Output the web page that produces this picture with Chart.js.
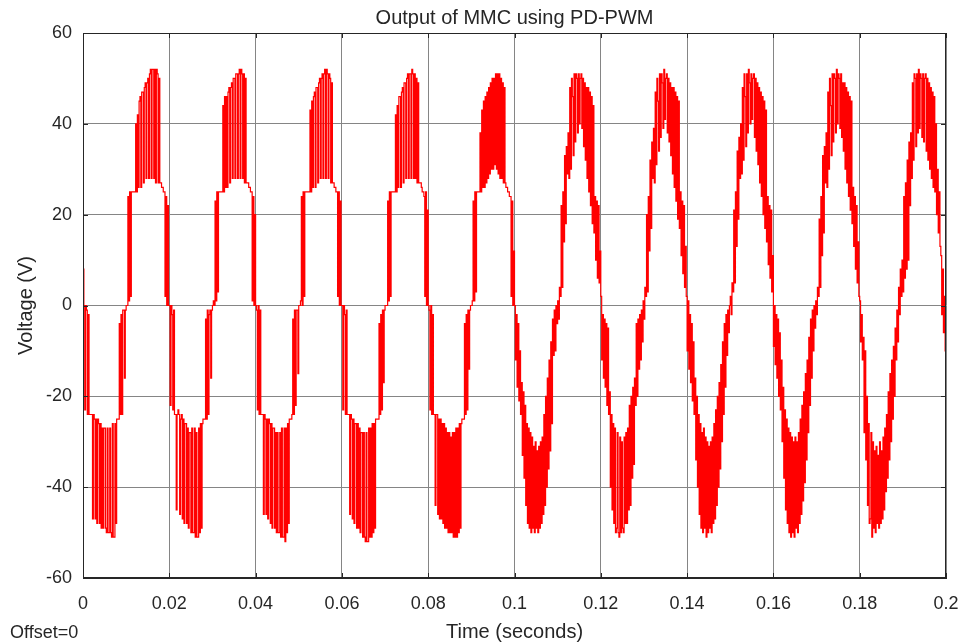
<!DOCTYPE html>
<html>
<head>
<meta charset="utf-8">
<title>Output of MMC using PD-PWM</title>
<script src="https://cdn.jsdelivr.net/npm/chart.js@4.4.1/dist/chart.umd.min.js"></script>
<style>
    html, body { margin: 0; padding: 0; background: #ffffff; }
    #wrap { width: 963px; height: 644px; }
</style>
</head>
<body>
<div id="wrap"><canvas id="mmcChart" width="963" height="644"></canvas></div>
<script>
//-----------------------------------------------------
// Scope data: output voltage (V), one array per 20 ms cycle,
// sampled every 0.2 ms (read off the scope trace)
//-----------------------------------------------------
const sampleStep = 0.0002;
const cyclePeriod = 0.02;

const cycle0 = [8,0,-23,0,-1,-24,-2,-24,-24,-24, -24,-47,-24,-25,-47,-25,-48,-25,-26,-48, -26,-49,-27,-49,-27,-27,-49,-50,-27,-50, -50,-27,-50,-51,-26,-51,-51,-26,-48,-25, -25,-25,-4,-24,-2,-24,-1,-1,-16,-1,
    0,0,24,1,25,2,25,25,25,25, 25,40,25,42,26,45,46,26,47,47, 27,48,49,28,49,50,28,51,52,28, 52,52,28,52,27,52,51,27,50,27, 27,26,26,25,25,2,24,0,22,0];
const cycle1 = [0,-22,0,-2,-23,-1,-24,-24,-45,-24, -23,-24,-46,-25,-24,-47,-25,-48,-26,-26, -48,-27,-49,-28,-28,-50,-27,-50,-50,-27, -51,-28,-51,-51,-27,-50,-26,-49,-26,-25, -25,-25,-3,-25,-1,-24,-2,-1,-16,-1,
    0,1,0,23,1,25,3,25,25,25, 25,25,44,25,46,26,46,26,47,48, 27,48,49,28,50,50,28,51,51,28, 51,52,28,52,51,28,51,27,50,27, 27,27,26,26,25,25,1,24,0,20];
const cycle2 = [0,-1,-23,0,-24,-1,-24,-24,-24,-46, -24,-25,-46,-25,-47,-25,-26,-48,-26,-49, -27,-27,-49,-28,-50,-28,-50,-50,-28,-51, -27,-51,-51,-27,-52,-27,-50,-26,-48,-25, -25,-25,-24,-3,-24,-1,-22,-1,-1,-15,
    0,0,1,24,0,25,2,25,25,25, 25,25,25,43,25,45,26,46,47,26, 48,48,27,49,50,28,50,51,28,51, 52,28,52,51,28,51,50,27,49,27, 27,26,26,25,25,2,25,0,23,0];
const cycle3 = [0,-23,0,-2,-24,-1,-24,-24,-24,-46, -24,-25,-47,-25,-48,-26,-26,-49,-26,-49, -27,-50,-28,-28,-51,-28,-51,-52,-28,-52, -52,-27,-51,-27,-51,-26,-50,-26,-49,-25, -25,-25,-25,-4,-24,-2,-23,-1,-17,-1,
    0,0,0,23,1,25,2,25,25,25, 25,25,42,25,44,26,46,46,26,47, 48,27,49,49,28,50,51,28,51,51, 28,52,51,28,51,28,50,27,49,27, 27,27,26,25,25,24,2,25,0,21];
const cycle4 = [0,-1,-23,0,-24,-2,-24,-24,-44,-24, -24,-46,-25,-47,-25,-47,-26,-48,-26,-49, -27,-49,-28,-50,-28,-50,-29,-50,-28,-51, -28,-51,-27,-51,-27,-50,-26,-49,-26,-25, -25,-25,-4,-24,-2,-23,-1,-14,-1,0,
    0,1,23,1,25,3,25,25,25,25, 38,25,43,26,45,26,46,27,47,28, 48,29,49,30,50,30,50,31,51,30, 51,29,51,28,50,28,49,27,48,27, 26,26,25,25,24,24,2,23,0,12];
const cycle5 = [0,-12,-2,-18,-4,-21,-10,-24,-17,-33, -19,-38,-22,-44,-26,-48,-27,-49,-28,-50, -29,-49,-31,-50,-30,-49,-32,-50,-31,-49, -30,-48,-29,-46,-24,-44,-20,-40,-16,-36, -12,-32,-8,-26,-3,-11,-1,-10,0,-4,
    1,-3,4,2,22,4,25,14,33,18, 35,29,38,28,48,30,50,46,33,51, 36,51,50,38,51,40,50,51,39,50, 35,49,32,48,28,48,25,47,22,46, 18,44,16,24,10,23,6,22,5,12];
const cycle6 = [2,-12,-2,-16,-3,-18,-4,-22,-5,-24, -19,-40,-24,-45,-26,-48,-27,-50,-49,-28, -50,-51,-29,-50,-30,-49,-50,-29,-48,-28, -48,-27,-45,-22,-44,-20,-38,-18,-35,-16, -22,-4,-20,-3,-14,-2,-12,-1,-8,1,
    -3,4,2,20,3,24,12,32,17,36, 28,39,27,47,31,50,45,34,51,37, 51,49,39,52,41,50,51,38,50,36, 49,33,48,29,48,26,47,23,46,19, 45,17,25,11,23,7,22,4,13,2];
const cycle7 = [-10,1,-14,-2,-17,-4,-21,-8,-24,-16, -34,-20,-40,-24,-46,-26,-49,-28,-50,-27, -49,-29,-51,-30,-50,-31,-49,-30,-50,-29, -48,-26,-47,-23,-44,-20,-40,-17,-36,-13, -30,-8,-24,-4,-18,-2,-11,-1,-6,0,
    2,-2,5,3,21,5,25,13,34,19, 37,28,40,29,48,32,51,46,35,51, 38,52,49,40,51,41,50,51,37,50, 34,49,31,48,27,47,24,46,20,45, 17,43,14,24,9,22,6,21,3,11];
const cycle8 = [-9,0,-13,-2,-16,-3,-20,-6,-23,-12, -30,-18,-38,-23,-45,-25,-48,-27,-50,-28, -51,-29,-50,-30,-51,-29,-49,-30,-50,-28, -48,-25,-46,-22,-43,-19,-39,-15,-34,-12, -28,-7,-22,-3,-16,-1,-10,0,-5,1,
    -2,4,2,19,4,24,11,33,16,35, 27,38,26,47,30,50,44,33,51,36, 51,50,38,52,40,51,50,39,51,37, 49,34,49,30,48,27,47,24,46,21, 45,18,26,13,24,8,22,5,14,2];
const cycle9 = [1,-8,-2,-12,-7,-28,-10,-34,-20,-44, -26,-48,-47,-28,-51,-30,-49,-32,-50,-31, -48,-33,-49,-30,-48,-32,-47,-29,-45,-27, -41,-24,-38,-19,-34,-15,-30,-12,-25,-9, -20,-5,-12,-1,-8,4,-2,8,2,10,
    3,24,6,27,8,32,10,36,22,38, 28,49,32,51,50,35,51,38,52,39, 51,50,37,51,36,50,51,34,50,32, 49,30,48,28,47,26,46,25,40,20, 30,16,25,13,11,-2,8,-6,2,-10];
const endTime = 0.2;
const endValue = -10;

const xTickValues = [0, 0.02, 0.04, 0.06, 0.08, 0.1, 0.12, 0.14, 0.16, 0.18, 0.2];
const yTickValues = [-60, -40, -20, 0, 20, 40, 60];

//-----------------------------------------------------
// Build the point list
//-----------------------------------------------------
const cycles = [cycle0, cycle1, cycle2, cycle3, cycle4, cycle5, cycle6, cycle7, cycle8, cycle9];
const points = [];
cycles.forEach((vals, k) => {
    vals.forEach((v, j) => {
        points.push({ x: k * cyclePeriod + j * sampleStep, y: v });
    });
});
points.push({ x: endTime, y: endValue });

const textColor = '#262626';
const gridColor = '#858585';
const fontFamily = "'Liberation Sans', Arial, sans-serif";

// Box around the plot, inward tick marks, and the Offset note
const scopeFrame = {
    id: 'scopeFrame',
    afterDatasetsDraw(chart) {
        const { ctx, chartArea: a, scales } = chart;
        ctx.save();
        ctx.strokeStyle = textColor;
        ctx.lineWidth = 1;
        ctx.strokeRect(a.left + 0.5, a.top + 0.5, a.right - a.left - 1, a.bottom - a.top - 1);
        ctx.beginPath();
        scales.y.ticks.forEach(t => {
            const py = Math.round(scales.y.getPixelForValue(t.value)) + 0.5;
            ctx.moveTo(a.left, py); ctx.lineTo(a.left + 5, py);
            ctx.moveTo(a.right, py); ctx.lineTo(a.right - 5, py);
        });
        scales.x.ticks.forEach(t => {
            const px = Math.round(scales.x.getPixelForValue(t.value)) + 0.5;
            ctx.moveTo(px, a.bottom); ctx.lineTo(px, a.bottom - 5);
            ctx.moveTo(px, a.top); ctx.lineTo(px, a.top + 5);
        });
        ctx.stroke();
        ctx.restore();
    },
    afterDraw(chart) {
        const ctx = chart.ctx;
        ctx.save();
        ctx.font = "18px " + fontFamily;
        ctx.fillStyle = textColor;
        ctx.textAlign = 'left';
        ctx.textBaseline = 'middle';
        ctx.fillText('Offset=0', 10, chart.height - 11);
        ctx.restore();
    }
};

new Chart(document.getElementById('mmcChart').getContext('2d'), {
    type: 'line',
    data: {
        datasets: [{
            label: 'Output voltage',
            data: points,
            borderColor: '#ff0000',
            borderWidth: 1.2,
            pointRadius: 0,
            stepped: true,
            fill: false
        }]
    },
    options: {
        responsive: false,
        animation: false,
        normalized: true,
        layout: { padding: { left: 0, right: 17, top: 0, bottom: 0 } },
        plugins: {
            legend: { display: false },
            tooltip: { enabled: false },
            title: {
                display: true,
                text: 'Output of MMC using PD-PWM',
                fullSize: false,
                color: textColor,
                font: { family: fontFamily, size: 20, weight: 'normal' },
                padding: { top: 6, bottom: 3 }
            }
        },
        scales: {
            x: {
                type: 'linear',
                min: 0,
                max: 0.2,
                afterBuildTicks: (scale) => { scale.ticks = xTickValues.map(v => ({ value: v })); },
                afterFit: (scale) => {
                    scale.height = 66;
                    scale.paddingLeft = 0;
                    scale.paddingRight = 0;
                },
                ticks: {
                    color: textColor,
                    font: { family: fontFamily, size: 18 },
                    padding: 15,
                    maxRotation: 0,
                    autoSkip: false,
                    callback: (v) => String(v)
                },
                grid: { color: gridColor, lineWidth: 1, drawTicks: false },
                border: { display: true, color: textColor },
                title: {
                    display: true,
                    text: 'Time (seconds)',
                    color: textColor,
                    font: { family: fontFamily, size: 20 },
                    padding: { top: 0, bottom: 0 }
                }
            },
            y: {
                min: -60,
                max: 60,
                afterBuildTicks: (scale) => { scale.ticks = yTickValues.map(v => ({ value: v })); },
                afterFit: (scale) => {
                    scale.width = 83;
                    scale.paddingTop = 0;
                    scale.paddingBottom = 0;
                },
                ticks: {
                    color: textColor,
                    font: { family: fontFamily, size: 18 },
                    padding: 11,
                    autoSkip: false,
                    callback: (v) => String(v)
                },
                grid: { color: gridColor, lineWidth: 1, drawTicks: false },
                border: { display: true, color: textColor },
                title: {
                    display: true,
                    text: 'Voltage (V)',
                    color: textColor,
                    font: { family: fontFamily, size: 20 },
                    padding: { top: 14, bottom: 0 }
                }
            }
        }
    },
    plugins: [scopeFrame]
});
</script>
</body>
</html>
